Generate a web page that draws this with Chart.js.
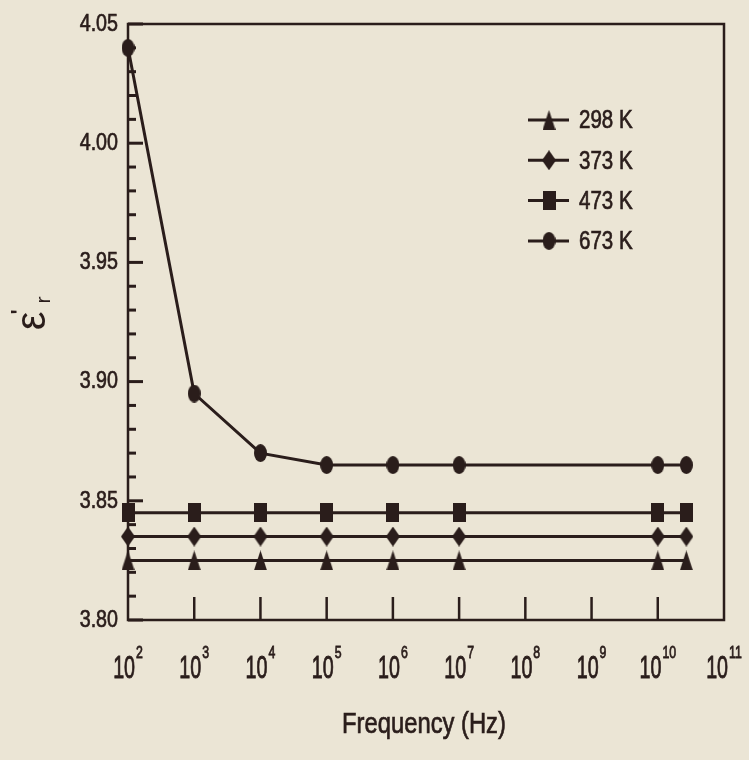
<!DOCTYPE html>
<html>
<head>
<meta charset="utf-8">
<script src="https://cdn.jsdelivr.net/npm/chart.js@4/dist/chart.umd.min.js"></script>
<style>
  html, body { margin: 0; padding: 0; background: #ebe5d5; }
  #wrap { width: 749px; height: 760px; position: relative; }
</style>
</head>
<body>
<div id="wrap"><canvas id="c"></canvas></div>
<script>
// Relative permittivity vs. frequency at four temperatures
const frequencies = [1e2, 1e3, 1e4, 1e5, 1e6, 1e7, 1e10, 2.7e10];
const seriesLabels = ['298 K', '373 K', '473 K', '673 K'];
const eps298 = [3.825, 3.825, 3.825, 3.825, 3.825, 3.825, 3.825, 3.825];
const eps373 = [3.835, 3.835, 3.835, 3.835, 3.835, 3.835, 3.835, 3.835];
const eps473 = [3.845, 3.845, 3.845, 3.845, 3.845, 3.845, 3.845, 3.845];
const eps673 = [4.04, 3.895, 3.87, 3.865, 3.865, 3.865, 3.865, 3.865];

const yTickValues = [3.80, 3.85, 3.90, 3.95, 4.00, 4.05];
const yTickLabels = ['3.80', '3.85', '3.90', '3.95', '4.00', '4.05'];
const xTickExponents = [2, 3, 4, 5, 6, 7, 8, 9, 10, 11];

const INK = '#2a1d1b';
const SANS = '"Liberation Sans", Arial, sans-serif';
const CONDENSE = 0.82;   // horizontal squeeze for a narrow face

// Marker sprites (slightly tall shapes)
function marker(shape, w, h) {
  const c = document.createElement('canvas');
  c.width = w; c.height = h;
  const g = c.getContext('2d');
  g.fillStyle = INK;
  g.beginPath();
  if (shape === 'triangle') {
    g.moveTo(w / 2, 0); g.lineTo(w, h); g.lineTo(0, h); g.closePath();
  } else if (shape === 'diamond') {
    g.moveTo(w / 2, 0); g.lineTo(w, h / 2); g.lineTo(w / 2, h); g.lineTo(0, h / 2); g.closePath();
  } else if (shape === 'square') {
    g.rect(0, 0, w, h);
  } else {
    g.ellipse(w / 2, h / 2, w / 2, h / 2, 0, 0, Math.PI * 2);
  }
  g.fill();
  return c;
}
const markers = [
  marker('triangle', 13, 20),
  marker('diamond', 14, 20),
  marker('square', 13, 19),
  marker('ellipse', 13, 18)
];

function series(values, i) {
  return {
    label: seriesLabels[i],
    data: frequencies.map((f, k) => ({ x: f, y: values[k] })),
    borderColor: INK,
    backgroundColor: INK,
    borderWidth: 3,
    pointStyle: markers[i],
    pointRadius: 8,
    tension: 0,
    clip: false
  };
}

// Text drawn with a narrow, slightly tall, dense look
function narrowText(ctx, str, x, y, size, align, baseline, sy) {
  ctx.save();
  ctx.translate(x, y);
  ctx.scale(CONDENSE, sy || 1);
  ctx.font = size + 'px ' + SANS;
  ctx.textAlign = align;
  ctx.textBaseline = baseline;
  ctx.fillStyle = INK;
  ctx.strokeStyle = INK;
  ctx.lineWidth = 0.7;
  ctx.fillText(str, 0, 0);
  ctx.strokeText(str, 0, 0);
  ctx.restore();
}
function narrowWidth(ctx, str, size) {
  ctx.save();
  ctx.font = size + 'px ' + SANS;
  const w = ctx.measureText(str).width * CONDENSE;
  ctx.restore();
  return w;
}

// Frame, inward ticks, tick labels, axis titles and legend
const decorations = {
  id: 'decorations',
  beforeDatasetsDraw(chart) {
    const { ctx, chartArea: a, scales: { x, y } } = chart;
    ctx.save();
    ctx.strokeStyle = INK;
    ctx.lineWidth = 2.5;
    ctx.strokeRect(a.left, a.top, a.right - a.left, a.bottom - a.top);
    // y ticks: major every 0.05, minor every 0.01
    ctx.lineWidth = 3;
    for (let k = 0; k <= 25; k++) {
      const v = 3.80 + k * 0.01;
      const py = y.getPixelForValue(v);
      const len = (k % 5 === 0) ? 15 : 8;
      ctx.beginPath();
      ctx.moveTo(a.left, py);
      ctx.lineTo(a.left + len, py);
      ctx.stroke();
    }
    // x ticks at each decade
    ctx.lineWidth = 2.5;
    xTickExponents.forEach(e => {
      const px = x.getPixelForValue(Math.pow(10, e));
      if (px <= a.left + 1 || px >= a.right - 1) return;
      ctx.beginPath();
      ctx.moveTo(px, a.bottom);
      ctx.lineTo(px, a.bottom - 23);
      ctx.stroke();
    });
    ctx.restore();
  },
  afterDraw(chart) {
    const { ctx, chartArea: a, scales: { x, y } } = chart;
    ctx.save();
    ctx.fillStyle = INK;

    // y tick labels
    yTickValues.forEach((v, i) => {
      narrowText(ctx, yTickLabels[i], a.left - 10, y.getPixelForValue(v), 24, 'right', 'middle', 1.02);
    });

    // x tick labels: 10 with superscript exponent
    xTickExponents.forEach(e => {
      const px = x.getPixelForValue(Math.pow(10, e));
      const wBase = narrowWidth(ctx, '10', 24);
      const wExp = narrowWidth(ctx, String(e), 15);
      const start = px - (wBase + 1 + wExp) / 2;
      narrowText(ctx, '10', start, 678, 24, 'left', 'alphabetic', 1.3);
      narrowText(ctx, String(e), start + wBase + 1, 658, 15, 'left', 'alphabetic', 1.15);
    });

    // x axis title
    narrowText(ctx, 'Frequency (Hz)', (a.left + a.right) / 2 - 2, 733, 29, 'center', 'alphabetic', 1);

    // y axis title: ε'r, rotated
    ctx.save();
    ctx.translate(34, 321);
    ctx.rotate(-Math.PI / 2);
    ctx.textAlign = 'center';
    ctx.textBaseline = 'alphabetic';
    ctx.font = '42px ' + SANS;
    ctx.fillText('ε', 0, 11);
    ctx.font = 'bold 22px ' + SANS;
    ctx.fillText('\'', 9, -8);
    ctx.font = '21px ' + SANS;
    ctx.fillText('r', 21, 16);
    ctx.restore();

    // legend
    chart.data.datasets.forEach((ds, i) => {
      const ly = 120 + i * 40.3;
      ctx.strokeStyle = INK;
      ctx.lineWidth = 3;
      ctx.beginPath();
      ctx.moveTo(528, ly);
      ctx.lineTo(569, ly);
      ctx.stroke();
      const m = ds.pointStyle;
      ctx.drawImage(m, 549 - m.width / 2, ly - m.height / 2);
      narrowText(ctx, ds.label, 579, ly + 1, 25, 'left', 'middle', 1.06);
    });
    ctx.restore();
  }
};

new Chart(document.getElementById('c'), {
  type: 'line',
  data: {
    datasets: [series(eps298, 0), series(eps373, 1), series(eps473, 2), series(eps673, 3)]
  },
  options: {
    responsive: true,
    maintainAspectRatio: false,
    animation: false,
    events: [],
    layout: { autoPadding: false, padding: { left: 0, right: 25, top: 24, bottom: 0 } },
    plugins: { legend: { display: false }, tooltip: { enabled: false }, title: { display: false } },
    scales: {
      x: {
        type: 'logarithmic',
        min: 1e2,
        max: 1e11,
        grid: { display: false, drawTicks: false },
        border: { display: false },
        ticks: { display: false },
        afterFit(s) { s.height = 140; }
      },
      y: {
        type: 'linear',
        min: 3.80,
        max: 4.05,
        grid: { display: false, drawTicks: false },
        border: { display: false },
        ticks: { display: false },
        afterFit(s) { s.width = 128; }
      }
    }
  },
  plugins: [decorations]
});
</script>
</body>
</html>
